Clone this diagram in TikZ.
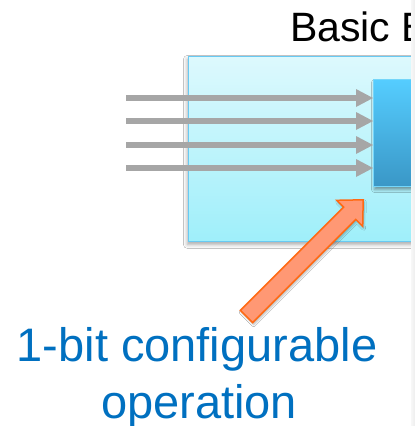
\documentclass[tikz,border=0pt]{standalone}
\usepackage{fontspec}
\setmainfont{Liberation Sans}
\usetikzlibrary{calc,shadows.blur}
\definecolor{panelTop}{HTML}{DDF9FD}
\definecolor{panelBot}{HTML}{9FEFFA}
\definecolor{panelEdge}{HTML}{68CAF3}
\definecolor{coreTop}{HTML}{55CDFF}
\definecolor{coreBot}{HTML}{3A97C6}
\definecolor{coreEdge}{HTML}{74D6FA}
\definecolor{wire}{HTML}{A6A6A6}
\definecolor{pointerFill}{HTML}{FF9874}
\definecolor{pointerEdge}{HTML}{FF6A14}
\definecolor{labelBlue}{HTML}{0070C0}
\tikzset{
  panel/.style={draw=panelEdge, line width=1.8pt, top color=panelTop, bottom color=panelBot,
    anchor=north west, inner sep=0pt,
    blur shadow={shadow xshift=-1pt, shadow yshift=-3pt, shadow blur radius=4pt, shadow opacity=35}},
  core/.style={draw=coreEdge, line width=1pt, top color=coreTop, bottom color=coreBot,
    anchor=north west, inner sep=0pt,
    blur shadow={shadow xshift=1pt, shadow yshift=-3pt, shadow blur radius=3pt, shadow opacity=40}},
  wireline/.style={draw=wire, line width=6pt},
  wirehead/.style={fill=wire},
  pointer/.style={fill=pointerFill, draw=pointerEdge, line width=1.5pt, line join=miter},
  caption/.style={text=labelBlue, font=\fontsize{47}{57}\selectfont, inner sep=0pt, anchor=base},
  heading/.style={text=black, font=\fontsize{41}{47}\selectfont, inner sep=0pt, anchor=base west}
}
\begin{document}
\begin{tikzpicture}[x=1pt,y=-1pt]
\useasboundingbox (0,0) rectangle (415,426);
\fill[white] (0,0) rectangle (415,426);
\begin{scope}
  \clip (0,0) rectangle (411,426);
  % heading, cut at the page edge
  \node[heading] (title) at (290,41) {Basic B};
  % outer block and the configurable element inside it
  \node[panel, minimum width=250pt, minimum height=185pt] (blk) at (187.5,55.5) {};
  \node[core, minimum width=60pt, minimum height=107pt] (lut) at (373,79) {};
  % four input wires: shaft plus a filled triangular head ending on the element
  \coordinate (in1) at (126,98);
  \coordinate (in2) at (126,121);
  \coordinate (in3) at (126,145);
  \coordinate (in4) at (126,168);
  \foreach \i in {1,...,4}{
    \coordinate (end\i) at (in\i -| lut.west);
    \draw[wireline] (in\i) -- ($(end\i)+(-16,0)$);
    \fill[wirehead] (end\i) -- ++(-17,-9) -- ++(0,18) -- cycle;
  }
\end{scope}
% strip along the right edge
\shade[left color=gray!6, right color=gray!14] (411,0) rectangle (415,426);
% block arrow pointing at the element
\coordinate (ptail) at (246.5,316.5);
\coordinate (ptip) at (363.2,199.8);
\draw[pointer, blur shadow={shadow xshift=1pt, shadow yshift=-2pt, shadow blur radius=2pt, shadow opacity=30}]
  (240.35,310.35) -- (343.6,207.1) -- (336.7,200.3) -- (ptip) -- (362.7,226.3)
  -- (355.85,219.45) -- (252.65,322.65) -- cycle;
% caption
\node[caption] (cap1) at (197,361) {1-bit configurable};
\node[caption] (cap2) at (199,418) {operation};
\end{tikzpicture}
\end{document}
